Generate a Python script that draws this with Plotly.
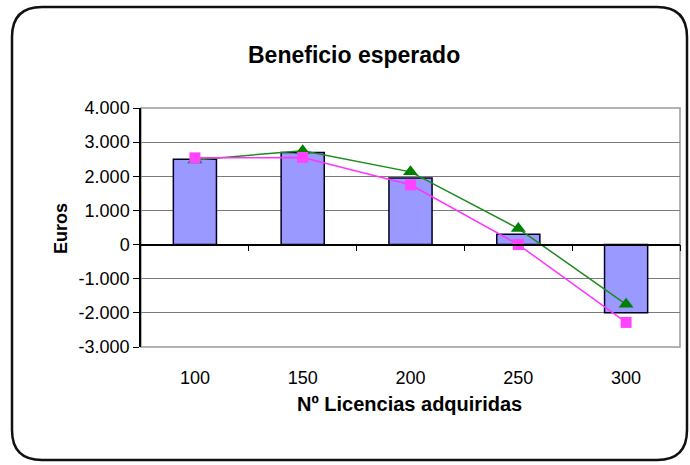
import plotly.graph_objects as go

# Licencias adquiridas (categorías del eje X)
licencias = ["100", "150", "200", "250", "300"]
# Beneficio esperado por número de licencias (barras)
beneficio = [2500, 2700, 1950, 300, -2000]
# Series complementarias
serie_triangulo = [2480, 2750, 2130, 470, -1750]
serie_cuadrado = [2540, 2550, 1750, 0, -2280]
# Eje Y
y_ticks = [4000, 3000, 2000, 1000, 0, -1000, -2000, -3000]
y_labels = ["4.000", "3.000", "2.000", "1.000", "0", "-1.000", "-2.000", "-3.000"]

W, H = 690, 465
ML, MR, MT, MB = 141, 10, 108, 118
PW, PH = W - ML - MR, H - MT - MB


def px_to_paper(x, y):
    return (x - ML) / PW, 1 - (y - MT) / PH


def rounded_rect(x0, y0, x1, y1, r):
    # path of a rounded rectangle given in pixels, expressed in paper coords
    def P(x, y):
        px, py = px_to_paper(x, y)
        return f"{px:.5f},{py:.5f}"
    pts = [
        f"M{P(x0 + r, y0)}",
        f"L{P(x1 - r, y0)}",
        f"Q{P(x1, y0)} {P(x1, y0 + r)}",
        f"L{P(x1, y1 - r)}",
        f"Q{P(x1, y1)} {P(x1 - r, y1)}",
        f"L{P(x0 + r, y1)}",
        f"Q{P(x0, y1)} {P(x0, y1 - r)}",
        f"L{P(x0, y0 + r)}",
        f"Q{P(x0, y0)} {P(x0 + r, y0)} Z",
    ]
    return " ".join(pts)


FONT = "Liberation Sans, Arial, sans-serif"

fig = go.Figure()
fig.add_trace(go.Bar(
    x=licencias, y=beneficio, width=0.4,
    marker=dict(color="#9999FF", line=dict(color="#000022", width=1.5)),
    hoverinfo="skip",
))
fig.add_trace(go.Scatter(
    x=licencias, y=serie_triangulo, mode="lines+markers",
    line=dict(color="#1E8A1E", width=1.5),
    marker=dict(symbol="triangle-up", size=13, color="#008000"),
    hoverinfo="skip",
))
fig.add_trace(go.Scatter(
    x=licencias, y=serie_cuadrado, mode="lines+markers",
    line=dict(color="#FF33FF", width=1.5),
    marker=dict(symbol="square", size=11, color="#FF44FF"),
    hoverinfo="skip",
))
# invisible helper so the zero-line axis with boundary ticks is drawn
fig.add_trace(go.Scatter(x=[None], y=[None], xaxis="x2", yaxis="y",
                         showlegend=False, hoverinfo="skip"))

shapes = [
    dict(type="rect", xref="paper", yref="paper", x0=0, y0=0, x1=1, y1=1,
         line=dict(color="#9A9A9A", width=1.5), layer="below"),
    dict(type="path", xref="paper", yref="paper",
         path=rounded_rect(12, 7, 687, 460, 30),
         line=dict(color="#111111", width=2.5)),
]

fig.update_layout(
    width=W, height=H,
    margin=dict(l=ML, r=MR, t=MT, b=MB),
    paper_bgcolor="white", plot_bgcolor="white",
    showlegend=False,
    bargap=0.6,
    font=dict(family=FONT, color="#000000"),
    shapes=shapes,
    xaxis=dict(
        type="category", range=[-0.5, 4.5],
        showgrid=False, zeroline=False, showline=False, ticks="",
        tickfont=dict(size=18), ticklabelstandoff=18,
    ),
    xaxis2=dict(
        overlaying="x", anchor="free", position=3 / 7,
        range=[-0.5, 4.5], tickvals=[0.5, 1.5, 2.5, 3.5, 4.5],
        showticklabels=False, ticks="outside", ticklen=6,
        tickcolor="#000000", tickwidth=1,
        showline=True, linecolor="#000000", linewidth=1.5,
        showgrid=False, zeroline=False,
    ),
    yaxis=dict(
        range=[-3000, 4000], tickvals=y_ticks, ticktext=y_labels,
        tickfont=dict(size=18),
        showgrid=True, gridcolor="#7A7A7A", gridwidth=1.2,
        zeroline=False,
        showline=True, linecolor="#000000", linewidth=1.5,
        ticks="outside", ticklen=6, tickcolor="#000000",
    ),
    annotations=[
        dict(text="<b>Beneficio esperado</b>", xref="paper", yref="paper",
             x=px_to_paper(354, 0)[0], y=px_to_paper(0, 40)[1],
             showarrow=False, font=dict(size=23, family=FONT)),
        dict(text="<b>Nº Licencias adquiridas</b>", xref="paper", yref="paper",
             x=px_to_paper(409, 0)[0], y=px_to_paper(0, 417)[1],
             showarrow=False, font=dict(size=20, family=FONT)),
        dict(text="<b>Euros</b>", xref="paper", yref="paper",
             x=px_to_paper(49, 0)[0], y=px_to_paper(0, 229)[1],
             showarrow=False, textangle=-90, font=dict(size=18, family=FONT)),
    ],
)

fig.write_html("out.html")
